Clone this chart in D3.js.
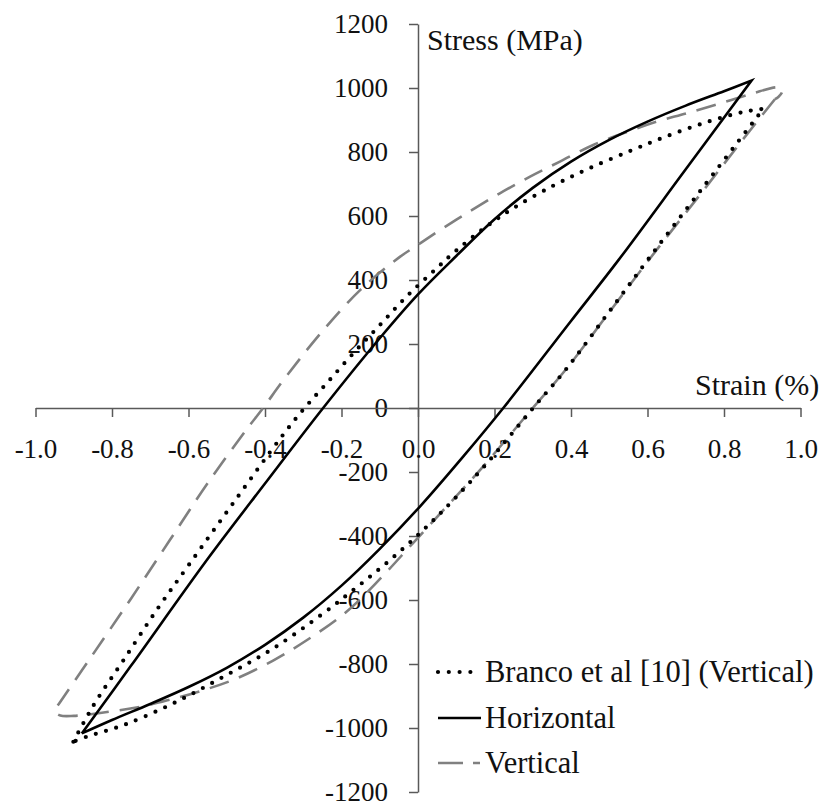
<!DOCTYPE html>
<html>
<head>
<meta charset="utf-8">
<script src="https://cdn.jsdelivr.net/npm/d3@7"></script>
<style>
  html, body { margin: 0; padding: 0; background: #fff; }
  svg { display: block; }
  text { font-family: "Liberation Serif", "Times New Roman", serif; fill: #111; }
</style>
</head>
<body>
<svg id="chart" width="824" height="803"></svg>
<script>
// ---------- data (strain %, stress MPa) ----------
const xTicks = [-1.0, -0.8, -0.6, -0.4, -0.2, 0.0, 0.2, 0.4, 0.6, 0.8, 1.0];
const yTicks = [-1200, -1000, -800, -600, -400, -200, 0, 200, 400, 600, 800, 1000, 1200];
const seriesNames = ["Branco et al [10] (Vertical)", "Horizontal", "Vertical"];

// Horizontal (solid)
const horizontalLoading = [
  [-0.879, -1017], [-0.75, -805], [-0.552, -475], [-0.40, -236], [-0.248, 0],
  [-0.10, 218], [0.0, 355], [0.1, 475], [0.2, 590], [0.3, 688], [0.4, 770],
  [0.5, 838], [0.6, 895], [0.7, 945], [0.8, 990], [0.872, 1023]
];
const horizontalUnloading = [
  [0.872, 1023], [0.70, 746], [0.524, 462], [0.40, 272], [0.223, 0],
  [0.118, -152], [0.005, -308], [-0.1, -440], [-0.2, -555], [-0.3, -655],
  [-0.4, -740], [-0.5, -812], [-0.6, -872], [-0.7, -925], [-0.8, -975], [-0.879, -1017]
];

// Branco et al [10] (Vertical) (dotted)
const brancoLoading = [
  [-0.901, -1043], [-0.875, -985], [-0.84, -913], [-0.77, -788], [-0.683, -631],
  [-0.596, -485], [-0.48, -292], [-0.36, -95], [-0.30, -5], [-0.239, 77],
  [-0.169, 171], [-0.099, 260], [-0.03, 348], [0.049, 437], [0.1, 492],
  [0.171, 560], [0.25, 625], [0.354, 695], [0.45, 750], [0.554, 803],
  [0.641, 845], [0.746, 890], [0.85, 925], [0.903, 935]
];
const brancoUnloading = [
  [0.903, 935], [0.75, 697], [0.607, 473], [0.493, 290], [0.389, 124],
  [0.301, 0], [0.18, -173], [0.092, -288], [0.014, -381], [-0.073, -475],
  [-0.16, -560], [-0.248, -642], [-0.378, -751], [-0.509, -840], [-0.64, -923],
  [-0.77, -991], [-0.866, -1027], [-0.901, -1043]
];

// Vertical (dashed, grey)
const verticalUnloading = [
  [0.933, 965], [0.85, 840], [0.75, 686], [0.607, 468], [0.493, 288],
  [0.389, 124], [0.30, 0], [0.162, -194], [0.075, -308], [-0.013, -422],
  [-0.10, -535], [-0.19, -640], [-0.29, -725], [-0.38, -790], [-0.48, -848],
  [-0.57, -885], [-0.65, -912], [-0.727, -934], [-0.831, -953], [-0.90, -962],
  [-0.935, -961], [-0.948, -950]
];
const verticalLoading = [
  [-0.948, -950], [-0.946, -938], [-0.935, -918], [-0.85, -770], [-0.75, -595],
  [-0.65, -415], [-0.55, -235], [-0.45, -70], [-0.405, 0], [-0.35, 90],
  [-0.25, 240], [-0.15, 370], [-0.05, 470], [0.0, 510], [0.05, 550],
  [0.136, 615], [0.214, 671], [0.293, 723], [0.371, 770], [0.458, 822],
  [0.54, 860], [0.624, 895], [0.702, 921], [0.79, 952], [0.877, 984],
  [0.935, 1002], [0.95, 1000], [0.952, 988], [0.942, 972], [0.933, 965]
];

// ---------- layout ----------
const svg = d3.select("#chart");
const x = d3.scaleLinear().domain([-1, 1]).range([35.5, 800.5]);
const y = d3.scaleLinear().domain([-1200, 1200]).range([792, 24]);
const axisColor = "#595959";

// y axis
const gy = svg.append("g")
  .attr("transform", `translate(${x(0)},0)`)
  .call(d3.axisLeft(y).tickValues(yTicks).tickSize(9).tickSizeOuter(0)
    .tickPadding(21).tickFormat(d => String(d)));
// x axis
const gx = svg.append("g")
  .attr("transform", `translate(0,${y(0)})`)
  .call(d3.axisBottom(x).tickValues(xTicks).tickSize(9).tickSizeOuter(0)
    .tickPadding(22).tickFormat(d => d.toFixed(1)));

[gx, gy].forEach(g => {
  g.selectAll("path.domain").attr("stroke", axisColor).attr("stroke-width", 1.5);
  g.selectAll(".tick line").attr("stroke", axisColor).attr("stroke-width", 1.5);
  g.selectAll(".tick text")
    .attr("font-family", "Liberation Serif, Times New Roman, serif")
    .attr("font-size", 27).attr("fill", "#111");
});

// axis titles
svg.append("text").attr("x", 427).attr("y", 50).attr("font-size", 30).text("Stress (MPa)");
svg.append("text").attr("x", 695).attr("y", 395).attr("font-size", 30).text("Strain (%)");

// ---------- series ----------
const line = d3.line().x(d => x(d[0])).y(d => y(d[1])).curve(d3.curveCatmullRom.alpha(0.5));
const twoBranch = (a, b) => line(a) + line(b).replace(/^M/, "L");

// Vertical (dashed grey) - smooth loop with hooks at the tips
svg.append("path")
  .attr("d", line(verticalUnloading.concat(verticalLoading.slice(1))))
  .attr("fill", "none").attr("stroke", "#808080").attr("stroke-width", 2.6)
  .attr("stroke-dasharray", "20,11");

// Horizontal (solid)
svg.append("path")
  .attr("d", twoBranch(horizontalLoading, horizontalUnloading))
  .attr("fill", "none").attr("stroke", "#000").attr("stroke-width", 2.6)
  .attr("stroke-linejoin", "miter");

// Branco (dotted)
svg.append("path")
  .attr("d", twoBranch(brancoLoading, brancoUnloading))
  .attr("fill", "none").attr("stroke", "#000").attr("stroke-width", 4.2)
  .attr("stroke-linecap", "round").attr("stroke-dasharray", "0,10.6");

// ---------- legend ----------
const legendRows = [
  { name: seriesNames[0], y: 672, stroke: "#000", width: 4.2, dash: "0,10.8", cap: "round", x2: 471 },
  { name: seriesNames[1], y: 718, stroke: "#000", width: 2.6, dash: null, cap: "butt", x2: 481 },
  { name: seriesNames[2], y: 763, stroke: "#808080", width: 2.6, dash: "25,10,8,100", cap: "butt", x2: 480 }
];
const lg = svg.append("g");
legendRows.forEach(r => {
  lg.append("line").attr("x1", 438).attr("x2", r.x2).attr("y1", r.y).attr("y2", r.y)
    .attr("stroke", r.stroke).attr("stroke-width", r.width)
    .attr("stroke-linecap", r.cap).attr("stroke-dasharray", r.dash);
  lg.append("text").attr("x", 485).attr("y", r.y + 10).attr("font-size", 30.5).text(r.name);
});
</script>
</body>
</html>
